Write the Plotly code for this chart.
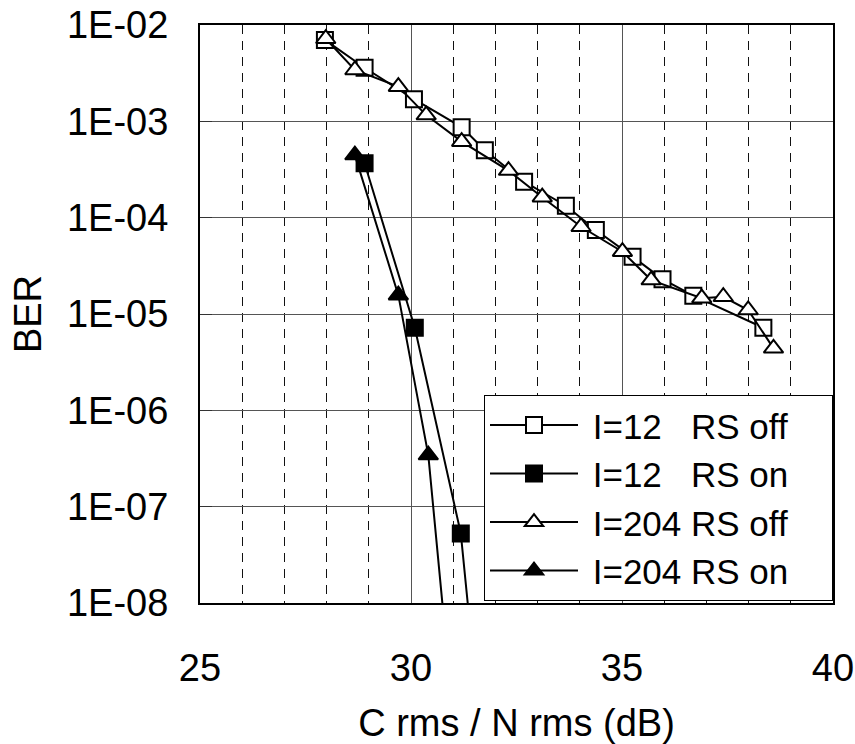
import plotly.graph_objects as go

# I=12 RS off
x_i12_off = [27.96, 28.9, 30.07, 31.2, 31.75, 32.68, 33.67, 34.38, 35.25, 35.96, 36.69, 38.35]
y_i12_off = [7.0e-3, 3.6e-3, 1.7e-3, 8.7e-4, 5.0e-4, 2.36e-4, 1.33e-4, 7.45e-5, 3.94e-5, 2.3e-5, 1.55e-5, 7.2e-6]
# I=12 RS on
x_i12_on = [28.9, 30.09, 31.18, 31.57]
y_i12_on = [3.67e-4, 7.2e-6, 5.28e-8, 1.0e-9]
# I=204 RS off
x_i204_off = [27.98, 28.67, 29.7, 30.36, 31.2, 32.31, 33.11, 34.03, 35.01, 35.69, 36.89, 37.4, 37.99, 38.59]
y_i204_off = [7.2e-3, 3.41e-3, 2.29e-3, 1.16e-3, 6.15e-4, 3.08e-4, 1.63e-4, 8.05e-5, 4.43e-5, 2.25e-5, 1.46e-5, 1.51e-5, 1.1e-5, 4.4e-6]
# I=204 RS on
x_i204_on = [28.67, 29.7, 30.41, 30.96]
y_i204_on = [4.46e-4, 1.57e-5, 3.43e-7, 1.0e-9]

y_tickvals = [1e-2, 1e-3, 1e-4, 1e-5, 1e-6, 1e-7, 1e-8]
y_ticktext = ["1E-02", "1E-03", "1E-04", "1E-05", "1E-06", "1E-07", "1E-08"]
x_tickvals = [25, 30, 35, 40]

NB = "\u00a0"
names = [NB + "I=12" + NB * 3 + "RS off" + NB * 4,
         NB + "I=12" + NB * 3 + "RS on",
         NB + "I=204 RS off",
         NB + "I=204 RS on"]

FONT = "Arial, Liberation Sans, sans-serif"

fig = go.Figure()
series = [
    (x_i12_off, y_i12_off, names[0], "square", "white", 16),
    (x_i12_on, y_i12_on, names[1], "square", "black", 16),
    (x_i204_off, y_i204_off, names[2], "triangle-up", "white", 17),
    (x_i204_on, y_i204_on, names[3], "triangle-up", "black", 17),
]
for xs, ys, nm, sym, fill, sz in series:
    fig.add_trace(go.Scatter(
        x=xs, y=ys, name=nm, mode="lines+markers",
        line=dict(color="black", width=2),
        marker=dict(symbol=sym, size=sz, color=fill, line=dict(color="black", width=2)),
    ))

fig.update_layout(
    width=855, height=744,
    margin=dict(l=200, r=22, t=25, b=141),
    paper_bgcolor="white", plot_bgcolor="white",
    font=dict(family=FONT, size=38, color="black"),
    showlegend=True,
    legend=dict(
        x=1.0, y=0.182, xanchor="right", yanchor="middle",
        xref="paper", yref="paper",
        bgcolor="white", bordercolor="black", borderwidth=1,
        font=dict(family=FONT, size=35, color="black"),
        itemwidth=88, tracegroupgap=0,
    ),
    xaxis=dict(
        range=[25, 40], tickvals=x_tickvals, ticktext=[str(v) for v in x_tickvals],
        showgrid=True, gridcolor="#555555", gridwidth=1,
        minor=dict(dtick=1, showgrid=True, gridcolor="#111111", griddash="9px,7px", gridwidth=1),
        showline=True, linecolor="black", linewidth=2, mirror=True,
        ticks="", ticklabelstandoff=30, zeroline=False, automargin=False,
        ticklabeloverflow="allow",
        title=dict(text="C rms / N rms (dB)", standoff=25, font=dict(size=38)),
    ),
    yaxis=dict(
        type="log", range=[-8, -2], tickvals=y_tickvals, ticktext=y_ticktext,
        showgrid=True, gridcolor="#555555", gridwidth=1,
        showline=True, linecolor="black", linewidth=2, mirror=True,
        ticks="inside", ticklen=12, tickcolor="#333333", tickwidth=1,
        ticklabelstandoff=22, zeroline=False, automargin=False,
        ticklabeloverflow="allow",
        title=dict(text="BER", standoff=14, font=dict(size=38)),
    ),
)

fig.write_html("out.html", config={"displayModeBar": False},
               post_script="document.body.style.margin='0';")
